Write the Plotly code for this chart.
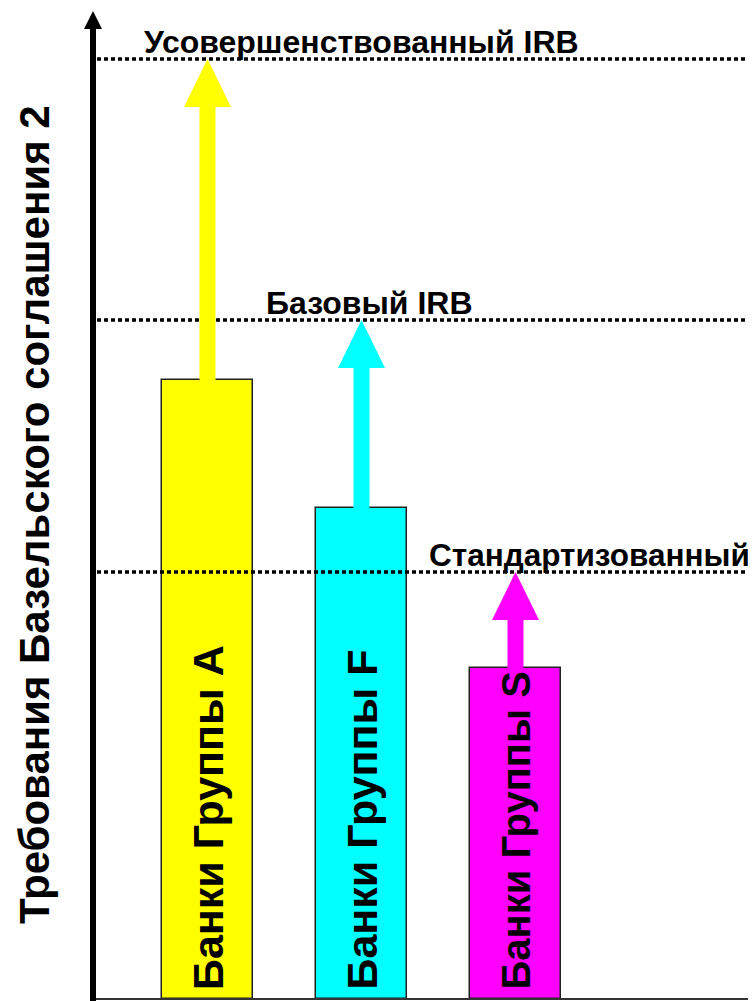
import plotly.graph_objects as go

# ---- data ----
categories = ["Банки Группы A", "Банки Группы F", "Банки Группы S"]
bar_values = [61.9, 49.1, 33.1]          # current requirement level
target_values = [94.0, 67.9, 42.7]       # approach level each group aims at
bar_colors = ["#FFFF00", "#00FFFF", "#FF00FF"]
level_names = ["Усовершенствованный IRB", "Базовый IRB", "Стандартизованный"]
level_values = [94.0, 67.9, 42.7]
y_title = "Требования Базельского соглашения 2"

FONT = "Liberation Sans, Arial, sans-serif"
OFF = 8                     # page body margin
W, H = 756 - OFF, 1001 - OFF
ML, MR, MT, MB = 95 - OFF, 0, 0, 2
PW = W - ML - MR
PH = H - MT - MB
XR = [-0.7305, -0.7305 + PW / 154.0]
YR = [0, PH / 10.0]

x_pos = list(range(len(categories)))

fig = go.Figure()
fig.add_trace(go.Bar(
    x=x_pos, y=bar_values, width=0.59,
    marker=dict(color=bar_colors, line=dict(color="#222222", width=1.5)),
    hoverinfo="skip", showlegend=False,
))


def px2paper_x(px):
    return (px - OFF - ML) / PW


def py2paper_y(py):
    return (H - MB - (py - OFF)) / PH


shapes = []
# dotted level lines
for lv in level_values:
    shapes.append(dict(type="line", xref="paper", yref="y", x0=px2paper_x(97), x1=px2paper_x(748),
                       y0=lv, y1=lv, line=dict(color="black", width=3.5, dash="4px,3px")))

# arrows from bar tops to target levels
head_h = 4.8
head_w = 47 / 154.0
shaft_w = 16 / 154.0
for xi, b, t, c in zip(x_pos, bar_values, target_values, bar_colors):
    shapes.append(dict(type="rect", xref="x", yref="y",
                       x0=xi - shaft_w / 2, x1=xi + shaft_w / 2,
                       y0=b, y1=t - head_h + 0.1, fillcolor=c, line=dict(width=0)))
    shapes.append(dict(type="path", xref="x", yref="y",
                       path=f"M {xi - head_w/2},{t - head_h} L {xi + head_w/2},{t - head_h} L {xi},{t} Z",
                       fillcolor=c, line=dict(width=0)))

# axes drawn as shapes (paper coords)
shapes.append(dict(type="line", xref="paper", yref="paper",
                   x0=px2paper_x(91), x1=1.0, y0=py2paper_y(999), y1=py2paper_y(999),
                   line=dict(color="#333333", width=2)))
shapes.append(dict(type="line", xref="paper", yref="paper",
                   x0=px2paper_x(93), x1=px2paper_x(93), y0=py2paper_y(1003), y1=py2paper_y(27),
                   line=dict(color="black", width=6)))
shapes.append(dict(type="path", xref="paper", yref="paper",
                   path=(f"M {px2paper_x(84)},{py2paper_y(29)} L {px2paper_x(102)},{py2paper_y(29)} "
                         f"L {px2paper_x(93)},{py2paper_y(11)} Z"),
                   fillcolor="black", line=dict(width=0)))

annotations = []
label_x = [1.0, 1.055, 1.428]
label_anchor = ["center", "center", "left"]
label_size = [32, 32, 31.5]
for name, lv, lx, an, fs in zip(level_names, level_values, label_x, label_anchor, label_size):
    annotations.append(dict(text=name, x=lx, y=lv, xref="x", yref="y",
                            xanchor=an, yanchor="bottom", showarrow=False, yshift=-3,
                            font=dict(family=FONT, size=fs, color="black", weight="bold")))
bar_label_size = [43, 43, 40]
for xi, cat, fs in zip(x_pos, categories, bar_label_size):
    annotations.append(dict(text=cat, x=xi, y=0, xref="x", yref="y",
                            xanchor="center", yanchor="bottom", showarrow=False,
                            textangle=-90, yshift=7,
                            font=dict(family=FONT, size=fs, color="black", weight="bold")))
annotations.append(dict(text=y_title, x=px2paper_x(35), y=py2paper_y(515), xref="paper", yref="paper",
                        xanchor="center", yanchor="middle", showarrow=False, textangle=-90,
                        font=dict(family=FONT, size=42, color="black", weight="bold")))

fig.update_layout(
    width=W, height=H,
    margin=dict(l=ML, r=MR, t=MT, b=MB),
    paper_bgcolor="white", plot_bgcolor="white",
    xaxis=dict(range=XR, visible=False, fixedrange=True),
    yaxis=dict(range=YR, visible=False, fixedrange=True),
    shapes=shapes, annotations=annotations,
    bargap=0, showlegend=False,
)

fig.write_html("out.html")
